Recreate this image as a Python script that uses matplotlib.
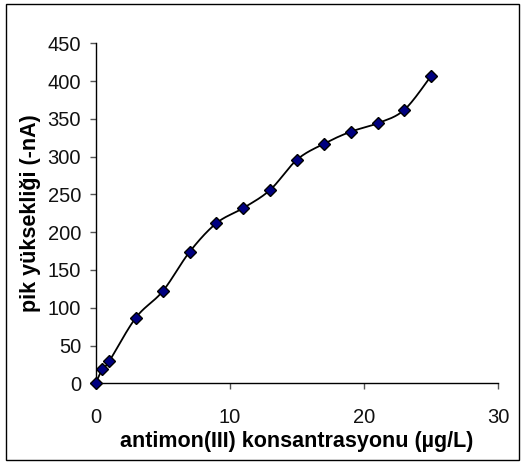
import numpy as np
import matplotlib
matplotlib.use("Agg")
import matplotlib.pyplot as plt
from matplotlib.patches import Rectangle

# Antimony(III) concentration (µg/L) and peak height (-nA)
concentration = [0, 0.5, 1, 3, 5, 7, 9, 11, 13, 15, 17, 19, 21, 23, 25]
peak_height = [0, 19, 29, 87, 122, 174, 212, 232, 256, 296, 317, 333, 344, 362, 407]

x_ticks = [0, 10, 20, 30]
y_ticks = [0, 50, 100, 150, 200, 250, 300, 350, 400, 450]

plt.rcParams['font.family'] = ['Liberation Sans', 'DejaVu Sans']


def smooth_curve(xs, ys, n=30):
    """Catmull-Rom style cubic Bezier through every point."""
    p = np.column_stack([xs, ys]).astype(float)
    ext = np.vstack([p[0], p, p[-1]])
    t = np.linspace(0, 1, n)[:, None]
    out = []
    for i in range(len(p) - 1):
        p0, p1, p2, p3 = ext[i], ext[i + 1], ext[i + 2], ext[i + 3]
        c1 = p1 + (p2 - p0) / 6.0
        c2 = p2 - (p3 - p1) / 6.0
        seg = ((1 - t) ** 3) * p1 + 3 * ((1 - t) ** 2) * t * c1 \
            + 3 * (1 - t) * t ** 2 * c2 + t ** 3 * p2
        out.append(seg if i == 0 else seg[1:])
    out = np.vstack(out)
    return out[:, 0], out[:, 1]


fig = plt.figure(figsize=(5.27, 4.62), dpi=100)
fig.patch.set_facecolor('white')
fig.patches.append(Rectangle((6 / 527, 1 - 460 / 462), 513 / 527, 456 / 462,
                             transform=fig.transFigure, fill=False,
                             edgecolor='black', linewidth=1.0))

ax = fig.add_axes([95.7 / 527, 1 - 383.3 / 462, 402.6 / 527, 340 / 462])

sx, sy = smooth_curve(concentration, peak_height)
ax.plot(sx, sy, color='black', linewidth=1.3, zorder=2, clip_on=False)
ax.plot(concentration, peak_height, linestyle='none', marker='D',
        markersize=6.3, markerfacecolor='#000080', markeredgecolor='black',
        markeredgewidth=1.0, zorder=3, clip_on=False)

ax.set_xlim(0, 30)
ax.set_ylim(0, 450)
ax.set_xticks(x_ticks)
ax.set_yticks(y_ticks)
ax.spines['top'].set_visible(False)
ax.spines['right'].set_visible(False)
for s in ('left', 'bottom'):
    ax.spines[s].set_color('black')
    ax.spines[s].set_linewidth(1.0)
ax.tick_params(axis='both', direction='out', length=4.5, width=1,
               color='#555555', labelsize=14.5, labelcolor='#111111')
ax.tick_params(axis='y', pad=6)
ax.tick_params(axis='x', pad=13)

ax.set_xlabel('antimon(III) konsantrasyonu (µg/L)', fontsize=15.5,
              fontweight='bold', labelpad=3)
ax.set_ylabel('pik yüksekliği (-nA)', fontsize=15.5, fontweight='bold',
              labelpad=5)

fig.savefig('out.png', dpi=100, facecolor='white')
